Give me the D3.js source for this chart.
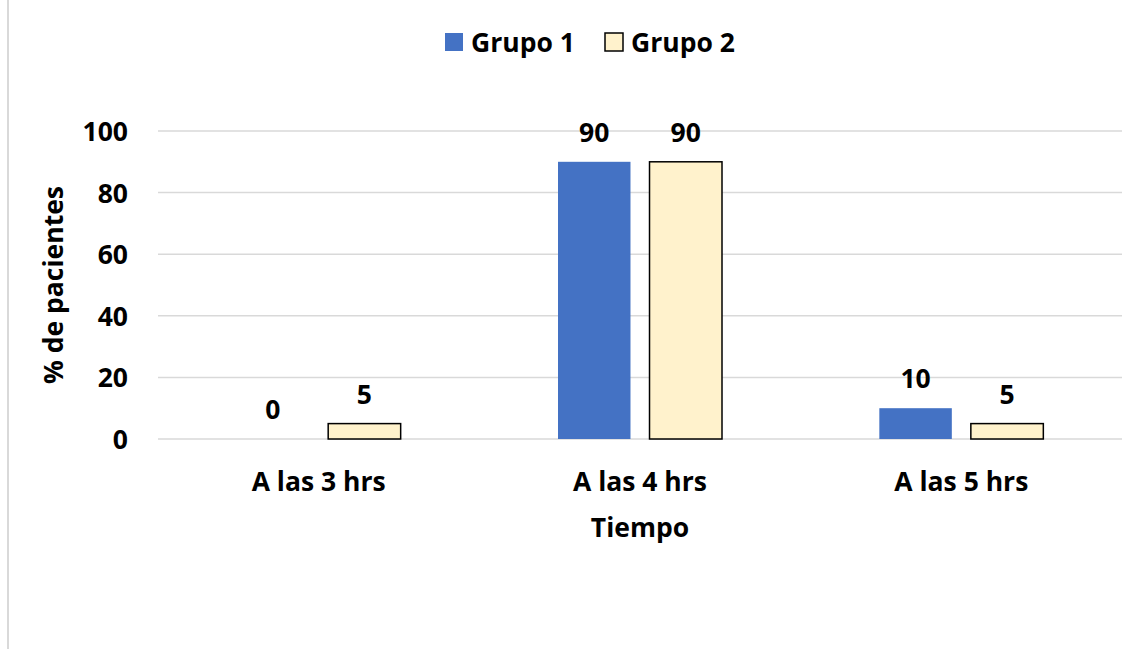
<!DOCTYPE html>
<html><head><meta charset="utf-8">
<script src="https://cdn.jsdelivr.net/npm/d3@7"></script>
<style>
html,body{margin:0;padding:0;background:#fff;}
text{font-family:"Open Sans",sans-serif;font-weight:700;fill:#000;}
</style></head>
<body><svg id="c" width="1147" height="649"></svg>
<script>
const categories = ["A las 3 hrs", "A las 4 hrs", "A las 5 hrs"];
const seriesNames = ["Grupo 1", "Grupo 2"];
const grupo1 = [0, 90, 10];
const grupo2 = [5, 90, 5];
const yTicks = [0, 20, 40, 60, 80, 100];
const yTitle = "% de pacientes";
const xTitle = "Tiempo";
const colors = ["#4472C4", "#FFF2CC"];
const strokes = ["none", "#000"];
const FS = 26.5;
const FF = "'Open Sans', sans-serif";

const svg = d3.select("#c");
const L = 158, R = 1122, T = 131, B = 439;

svg.append("line").attr("x1", 8).attr("x2", 8).attr("y1", 0).attr("y2", 649)
  .attr("stroke", "#d9d9d9").attr("stroke-width", 2);

const x0 = d3.scaleBand().domain(categories).range([L, R]).padding(0);
const groupW = 164;
const x1 = d3.scaleBand().domain(seriesNames).range([0, groupW]).paddingInner(0.208).paddingOuter(0);
const y = d3.scaleLinear().domain([0, 100]).range([B, T]);

svg.append("g").selectAll("line").data(yTicks).join("line")
  .attr("x1", L).attr("x2", R).attr("y1", d => y(d)).attr("y2", d => y(d))
  .attr("stroke", "#d9d9d9").attr("stroke-width", 1.5);

const yAxis = d3.axisLeft(y).tickValues(yTicks).tickSize(0).tickPadding(0);
const ya = svg.append("g").attr("transform", `translate(${L - 30},0)`).call(yAxis);
ya.select(".domain").remove();
ya.selectAll("text").attr("font-size", FS).attr("font-family", FF).attr("font-weight", 700).attr("fill", "#000").attr("dy", "0.36em");

const xAxis = d3.axisBottom(x0).tickSize(0).tickPadding(0);
const xa = svg.append("g").attr("transform", `translate(0,${B + 52})`).call(xAxis);
xa.select(".domain").remove();
xa.selectAll("text").attr("font-size", FS).attr("font-family", FF).attr("font-weight", 700).attr("fill", "#000").attr("dy", "0");

const data = categories.map((c, i) => ({c, vals: [grupo1[i], grupo2[i]]}));
const g = svg.append("g");
data.forEach(d => {
  const gx = x0(d.c) + x0.bandwidth() / 2 - groupW / 2;
  d.vals.forEach((v, j) => {
    const bx = gx + x1(seriesNames[j]);
    if (v > 0) {
      g.append("rect").attr("x", bx).attr("y", y(v)).attr("width", x1.bandwidth())
        .attr("height", y(0) - y(v)).attr("fill", colors[j])
        .attr("stroke", strokes[j]).attr("stroke-width", 1.5);
    }
    g.append("text").attr("x", bx + x1.bandwidth() / 2).attr("y", y(v) - 20)
      .attr("text-anchor", "middle").attr("font-size", FS).text(v);
  });
});

svg.append("text").attr("transform", `translate(63,${(T + B) / 2}) rotate(-90)`)
  .attr("text-anchor", "middle").attr("font-size", FS).text(yTitle);
svg.append("text").attr("x", (L + R) / 2).attr("y", 537)
  .attr("text-anchor", "middle").attr("font-size", FS).text(xTitle);

const lg = svg.append("g");
const legX = [445, 605];
seriesNames.forEach((s, j) => {
  lg.append("rect").attr("x", legX[j]).attr("y", 33).attr("width", 18).attr("height", 18)
    .attr("fill", colors[j]).attr("stroke", strokes[j]).attr("stroke-width", 1.5);
  lg.append("text").attr("x", legX[j] + 26).attr("y", 52).attr("font-size", FS).text(s);
});
</script></body></html>
